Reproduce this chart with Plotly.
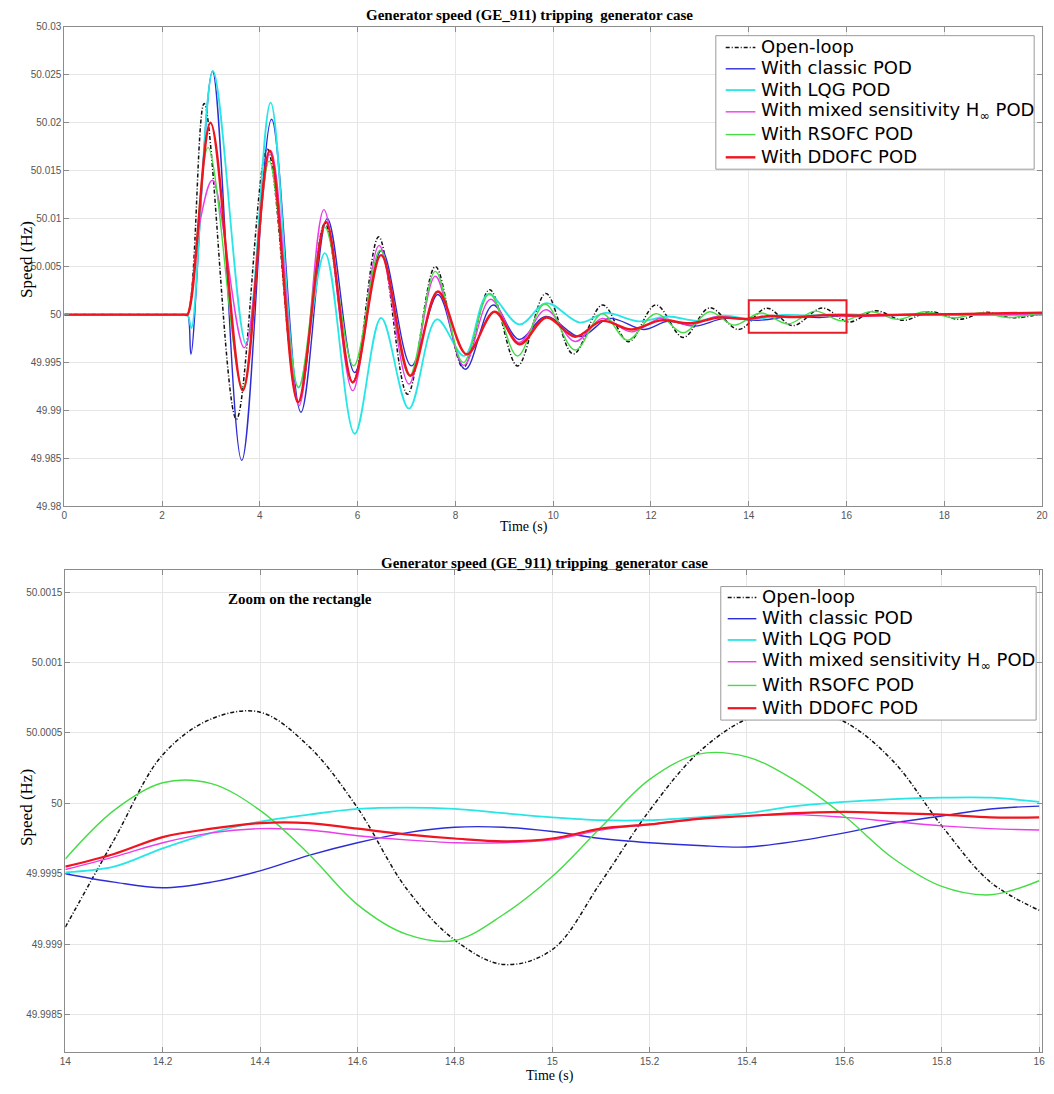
import plotly.graph_objects as go

W, H = 1054, 1094

# ---------------- DATA ----------------
series_names = [
    "Open-loop",
    "With classic POD",
    "With LQG POD",
    "With mixed sensitivity H<sub>\u221e</sub> POD",
    "With RSOFC POD",
    "With DDOFC POD",
]
series_colors = ["#111111", "rgb(45,45,215)", "rgb(40,230,230)", "rgb(235,60,235)",
                 "rgb(70,220,70)", "rgb(240,20,30)"]

# Top panel: full simulation (time in s, speed in Hz)
t_open = [0, 2.45, 2.52, 2.86, 3.52, 4.15, 4.79, 5.33, 5.9, 6.43, 7.02, 7.59, 8.16, 8.7, 9.27, 9.85,
          10.41, 11.01, 11.54, 12.1, 12.66, 13.2, 13.79, 14.37, 14.9, 15.5, 16.05, 16.59, 17.16,
          17.72, 18.31, 18.85, 19.41, 20]
v_open = [50, 50, 50, 50.022, 49.9891, 50.01725, 49.99086, 50.0095, 49.9929, 50.0081, 49.9917,
          50.005, 49.99448, 50.0026, 49.99465, 50.0022, 49.9959, 50.001, 49.99717, 50.001, 49.99762,
          50.0007, 49.99845, 50.00067, 49.99885, 50.00068, 49.99923, 50.0004, 49.9994, 50.0003,
          49.9995, 50.00024, 49.99966, 50.0001]

t_classic = [0, 2.45, 2.52, 2.59, 3.03, 3.63, 4.24, 4.84, 5.38, 5.94, 6.49, 7.1, 7.64, 8.2, 8.77,
             9.3, 9.85, 10.55, 11.15, 11.85, 12.35, 12.9, 13.5, 14.2, 14.88, 15.45, 16.1, 16.8,
             17.6, 18.5, 20]
v_classic = [50, 50, 50, 49.99586, 50.02536, 49.9848, 50.02036, 49.98982, 50.01, 49.99396, 50.0067,
             49.99465, 50.0021, 49.9943, 50.001, 49.9974, 49.9998, 49.9977, 49.9996, 49.99845,
             49.9993, 49.9988, 49.9996, 49.9994, 49.99983, 49.99969, 49.99999, 49.9999, 50.00002,
             49.99998, 50.0]

t_lqg = [0, 2.45, 2.52, 2.6, 3.04, 3.72, 4.22, 4.79, 5.33, 5.94, 6.48, 7.05, 7.62, 8.18, 8.67,
         9.31, 9.86, 10.55, 11.07, 11.75, 12.35, 12.95, 13.5, 14.05, 14.72, 15.17, 15.85, 16.6,
         17.5, 18.5, 20]
v_lqg = [50, 50, 50, 49.9986, 50.0254, 49.9969, 50.0221, 49.9924, 50.0064, 49.98758, 49.99966,
         49.9902, 49.9995, 49.9957, 50.0021, 49.99897, 50.0012, 49.99917, 50.00017, 49.9993,
         49.9998, 49.99935, 49.9999, 49.9995, 49.99997, 49.99988, 50.00004, 49.99995, 50.00005,
         49.99997, 50.0]

t_hinf = [0, 2.45, 2.52, 2.75, 3.03, 3.68, 4.22, 4.8, 5.31, 5.9, 6.44, 7.05, 7.59, 8.17, 8.72,
          9.3, 9.85, 10.45, 11.0, 11.6, 12.2, 12.8, 13.35, 13.95, 14.42, 14.85, 15.5, 16.2, 17.0,
          18.0, 20]
v_hinf = [50, 50, 50, 50.009, 50.014, 49.99655, 50.0171, 49.9905, 50.01094, 49.99207, 50.0072,
          49.99276, 50.004, 49.9947, 50.0016, 49.9971, 50.0005, 49.9972, 49.9996, 49.9982, 49.9996,
          49.9989, 49.9998, 49.9995, 49.99982, 49.99972, 49.99992, 49.9998, 49.99995, 49.99998, 50.0]

t_rsofc = [0, 2.45, 2.52, 2.94, 3.65, 4.19, 4.79, 5.33, 5.92, 6.46, 7.06, 7.59, 8.16, 8.7, 9.27,
           9.83, 10.45, 11.0, 11.52, 12.1, 12.66, 13.2, 13.7, 14.25, 14.8, 15.36, 15.9, 16.5,
           17.05, 17.6, 18.2, 18.75, 19.3, 20]
v_rsofc = [50, 50, 50, 50.0174, 49.9924, 50.016, 49.9924, 50.0091, 49.99465, 50.0067, 49.9936,
           50.0045, 49.995, 50.0022, 49.99569, 50.0011, 49.9963, 50.0001, 49.99734, 50.0001,
           49.9981, 50.0003, 49.9989, 50.00017, 49.99902, 50.00036, 49.99934, 50.0003, 49.9995,
           50.0003, 49.99965, 50.0002, 49.9997, 50.0002]

t_ddofc = [0, 2.45, 2.52, 2.99, 3.65, 4.2, 4.78, 5.35, 5.9, 6.48, 7.08, 7.64, 8.23, 8.8, 9.31,
           9.86, 10.45, 11.0, 11.6, 12.2, 12.8, 13.4, 13.95, 14.45, 14.9, 15.6, 16.3, 17.2, 18.2, 20]
v_ddofc = [50, 50, 50, 50.02, 49.99207, 50.01707, 49.99086, 50.00966, 49.99293, 50.0062, 49.99362,
           50.0024, 49.99586, 50.0003, 49.9969, 49.9997, 49.99769, 49.99934, 49.99845, 49.9994,
           49.9991, 49.9997, 49.99955, 49.99986, 49.99973, 49.99994, 49.9999, 50.0, 50.00005, 50.0002]

# Bottom panel: zoom on the rectangle (14 s - 16 s)
t_zoom = [14.0, 14.1, 14.2, 14.3, 14.4, 14.5, 14.6, 14.7, 14.8, 14.9, 15.0,
          15.1, 15.2, 15.3, 15.4, 15.5, 15.6, 15.7, 15.8, 15.9, 16.0]
z_open = [49.99912, 49.99974, 50.000345, 50.0006, 50.000648, 50.000405, 49.999968, 49.999397,
          49.999028, 49.998855, 49.99896, 49.99944, 49.99995, 50.00036, 50.0006, 50.00068,
          50.00058, 50.0003, 49.99984, 49.99944, 49.99924]
z_classic = [49.9995, 49.99944, 49.9994, 49.99944, 49.99952, 49.99963, 49.99972, 49.99979,
             49.99983, 49.99983, 49.9998, 49.99975, 49.99972, 49.9997, 49.99969, 49.99973,
             49.99979, 49.99986, 49.99991, 49.99996, 49.99998]
z_lqg = [49.99951, 49.99955, 49.99968, 49.99979, 49.99987, 49.99992, 49.99996, 49.99997, 49.99996,
         49.99993, 49.9999, 49.99988, 49.99988, 49.9999, 49.99993, 49.99998, 50.00001, 50.00003,
         50.00004, 50.00004, 50.00001]
z_hinf = [49.99953, 49.99962, 49.99972, 49.99979, 49.99982, 49.99981, 49.99977, 49.99974,
          49.99972, 49.99972, 49.99974, 49.99981, 49.99985, 49.99989, 49.99991, 49.99992,
          49.9999, 49.99987, 49.99984, 49.99982, 49.99981]
z_rsofc = [49.999605, 49.99995, 50.000146, 50.00014, 49.99995, 49.99964, 49.99928, 49.99907,
           49.999025, 49.99921, 49.99948, 49.99983, 50.00017, 50.00035, 50.00033, 50.00016,
           49.99991, 49.99961, 49.99941, 49.99935, 49.99945]
z_ddofc = [49.99955, 49.99964, 49.99976, 49.99982, 49.99986, 49.99986, 49.99982, 49.99978,
           49.99975, 49.99973, 49.99975, 49.99982, 49.99985, 49.99989, 49.99991, 49.99993,
           49.99994, 49.99993, 49.99992, 49.9999, 49.9999]

# zoom window drawn on the top panel
zoom_window_t = [14, 16]
zoom_window_speed = [49.9981, 50.0015]

# tick labels
top_xticks = [0, 2, 4, 6, 8, 10, 12, 14, 16, 18, 20]
top_yticks = [49.98, 49.985, 49.99, 49.995, 50, 50.005, 50.01, 50.015, 50.02, 50.025, 50.03]
top_yticklabels = ["49.98", "49.985", "49.99", "49.995", "50", "50.005", "50.01", "50.015",
                   "50.02", "50.025", "50.03"]
bot_xticks = [14, 14.2, 14.4, 14.6, 14.8, 15, 15.2, 15.4, 15.6, 15.8, 16]
bot_xticklabels = ["14", "14.2", "14.4", "14.6", "14.8", "15", "15.2", "15.4", "15.6", "15.8", "16"]
bot_yticks = [49.9985, 49.999, 49.9995, 50, 50.0005, 50.001, 50.0015]
bot_yticklabels = ["49.9985", "49.999", "49.9995", "50", "50.0005", "50.001", "50.0015"]

title_text = "Generator speed (GE_911) tripping  generator case"

# ---------------- FIGURE ----------------
def fx(p):
    return p / W


def fy(p):
    return 1 - p / H


fig = go.Figure()

top_t = [t_open, t_classic, t_lqg, t_hinf, t_rsofc, t_ddofc]
top_v = [v_open, v_classic, v_lqg, v_hinf, v_rsofc, v_ddofc]
bot_v = [z_open, z_classic, z_lqg, z_hinf, z_rsofc, z_ddofc]
top_w = [1.5, 1.4, 1.8, 1.4, 1.4, 2.4]
bot_w = [1.5, 1.4, 1.8, 1.4, 1.4, 2.2]
black_dash = "4px,2px,1px,2px"


def dash_of(i):
    return black_dash if i == 0 else "solid"


for i, name in enumerate(series_names):
    fig.add_trace(go.Scatter(
        x=top_t[i], y=top_v[i], mode="lines", name=name, showlegend=False,
        line=dict(color=series_colors[i], width=top_w[i], dash=dash_of(i), shape="spline",
                  smoothing=1.0),
        xaxis="x", yaxis="y"))
for i, name in enumerate(series_names):
    fig.add_trace(go.Scatter(
        x=t_zoom, y=bot_v[i], mode="lines", name=name, showlegend=False,
        line=dict(color=series_colors[i], width=bot_w[i], dash=dash_of(i), shape="spline",
                  smoothing=1.0),
        xaxis="x2", yaxis="y2"))

# red rectangle marking the zoom window
fig.add_shape(type="rect", xref="x", yref="y",
              x0=zoom_window_t[0], x1=zoom_window_t[1],
              y0=zoom_window_speed[0], y1=zoom_window_speed[1],
              line=dict(color="rgb(230,30,40)", width=2), fillcolor="rgba(0,0,0,0)")

# legend boxes drawn in paper space (MATLAB-style compact legend)
legend_font = dict(family="DejaVu Sans, Liberation Sans, sans-serif", size=18, color="black")
legend_specs = [
    dict(box=(718, 30, 1040, 165), key=(728, 758), text_x=762,
         rows=[41, 62.5, 84, 106, 129, 152], widths=top_w),
    dict(box=(723, 587, 1042, 722), key=(730, 759), text_x=763,
         rows=[597, 618.5, 640, 662, 686, 709], widths=bot_w),
]
for spec in legend_specs:
    x0, y0, x1, y1 = spec["box"]
    fig.add_shape(type="rect", xref="paper", yref="paper", x0=fx(x0), x1=fx(x1),
                  y0=fy(y1), y1=fy(y0), line=dict(color="#9a9a9a", width=1),
                  fillcolor="white", layer="above")
    for i, name in enumerate(series_names):
        yr = spec["rows"][i]
        fig.add_shape(type="line", xref="paper", yref="paper",
                      x0=fx(spec["key"][0]), x1=fx(spec["key"][1]), y0=fy(yr + 1), y1=fy(yr + 1),
                      line=dict(color=series_colors[i], width=spec["widths"][i],
                                dash=dash_of(i)), layer="above")
        fig.add_annotation(text=name, x=fx(spec["text_x"]), y=fy(yr), xref="paper",
                           yref="paper", xanchor="left", yanchor="middle", showarrow=False,
                           font=legend_font)

tickfont = dict(family="Liberation Sans, Arial, sans-serif", size=10, color="#555555")
axis_common = dict(showgrid=True, gridcolor="#e6e6e6", gridwidth=1, showline=True,
                   linecolor="#8c8c8c", linewidth=1, mirror="ticks", ticks="inside",
                   ticklen=5, tickcolor="#8c8c8c", tickfont=tickfont, zeroline=False)

fig.update_layout(
    width=W, height=H,
    margin=dict(l=0, r=0, t=0, b=0),
    paper_bgcolor="white", plot_bgcolor="white",
    showlegend=False,
    xaxis=dict(domain=[fx(59), fx(1048)], range=[0, 20], tickvals=top_xticks,
               ticktext=[str(v) for v in top_xticks], anchor="y", **axis_common),
    yaxis=dict(domain=[fy(506), fy(21)], range=[49.98, 50.03], tickvals=top_yticks,
               ticktext=top_yticklabels, anchor="x", **axis_common),
    xaxis2=dict(domain=[fx(60), fx(1048)], range=[14, 16.006], tickvals=bot_xticks,
                ticktext=bot_xticklabels, anchor="y2", **axis_common),
    yaxis2=dict(domain=[fy(1058), fy(570)], range=[49.99823, 50.00166], tickvals=bot_yticks,
                ticktext=bot_yticklabels, anchor="x2", **axis_common),
)

serif = "Liberation Serif, Times New Roman, serif"
annots = [
    dict(text="<b>" + title_text + "</b>", x=fx(530), y=fy(10), size=15),
    dict(text="<b>" + title_text + "</b>", x=fx(545), y=fy(564), size=15),
    dict(text="Time (s)", x=fx(524), y=fy(527), size=14),
    dict(text="Time (s)", x=fx(550), y=fy(1082), size=14),
    dict(text="<b>Zoom on the rectangle</b>", x=fx(297), y=fy(600), size=15),
]
for a in annots:
    fig.add_annotation(text=a["text"], x=a["x"], y=a["y"], xref="paper", yref="paper",
                       xanchor="center", yanchor="middle", showarrow=False,
                       font=dict(family=serif, size=a["size"], color="black"))
for yc in (256, 810):
    fig.add_annotation(text="Speed (Hz)", x=fx(20), y=fy(yc), xref="paper", yref="paper",
                       xanchor="center", yanchor="middle", showarrow=False, textangle=-90,
                       font=dict(family=serif, size=17, color="black"))

fig.write_html("out.html",
               config={"displayModeBar": False},
               post_script="document.body.style.margin='0px';"
                           "document.body.style.overflow='hidden';")
